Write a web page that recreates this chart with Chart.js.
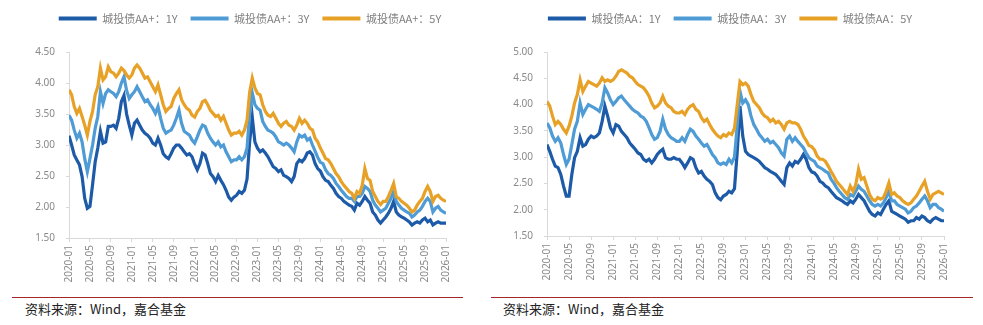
<!DOCTYPE html>
<html>
<head>
<meta charset="utf-8">
<script src="https://cdn.jsdelivr.net/npm/chart.js@4.4.1/dist/chart.umd.min.js"></script>
<style>
body { margin: 0; background: #fff; width: 983px; height: 325px; position: relative; overflow: hidden; }
canvas { position: absolute; top: 0; }
#leftChart { left: 0; }
#rightChart { left: 490px; }
.rule { position: absolute; top: 297px; height: 1px; background: #a3282a; }
.source { position: absolute; top: 300px; font-size: 13px; font-family: "Noto Sans CJK SC", sans-serif; color: #222; line-height: 18px; }
</style>
</head>
<body>
<canvas id="leftChart" width="490" height="295"></canvas>
<canvas id="rightChart" width="493" height="295"></canvas>
<div class="rule" style="left:12px;width:451px"></div>
<div class="rule" style="left:491px;width:482px"></div>
<div class="source" style="left:25px">资料来源：Wind，嘉合基金</div>
<div class="source" style="left:503px">资料来源：Wind，嘉合基金</div>
<script>
'use strict';

// half-month observation dates, 2020-01-01 .. 2026-01-01
let dates = [];
for (let y = 2020; y <= 2025; y++) {
    for (let m = 1; m <= 12; m++) {
        let mm = String(m).padStart(2, '0');
        dates.push(`${y}-${mm}-01`, `${y}-${mm}-16`);
    }
}
dates.push('2026-01-01');

let tickLabels = ['2020-01', '2020-05', '2020-09', '2021-01', '2021-05', '2021-09', '2022-01', '2022-05', '2022-09',
    '2023-01', '2023-05', '2023-09', '2024-01', '2024-05', '2024-09', '2025-01', '2025-05', '2025-09', '2026-01'];

let colors = ['#1d5aa8', '#4e9bd5', '#e8a127'];

// 城投债 AA+ yields (%)
let aaPlusNames = ['城投债AA+：1Y', '城投债AA+：3Y', '城投债AA+：5Y'];
let aaPlus1Y = [
    3.15, 3.00, 2.84, 2.76, 2.68, 2.49, 2.14, 1.98, 2.01, 2.36, 2.73, 2.95, 3.22, 3.03, 3.05, 3.30, 3.30, 3.32, 3.27, 3.43, 3.70, 3.80, 3.50, 3.32,
    3.16, 3.35, 3.40, 3.32, 3.24, 3.19, 3.16, 3.11, 3.03, 3.00, 3.11, 3.00, 2.86, 2.81, 2.78, 2.86, 2.95, 3.00, 3.00, 2.95, 2.89, 2.84, 2.86, 2.81,
    2.69, 2.60, 2.70, 2.87, 2.84, 2.70, 2.54, 2.49, 2.41, 2.51, 2.43, 2.36, 2.27, 2.16, 2.11, 2.16, 2.19, 2.25, 2.22, 2.27, 2.45, 3.05, 3.45, 3.05,
    2.95, 2.89, 2.92, 2.87, 2.81, 2.73, 2.65, 2.62, 2.57, 2.60, 2.51, 2.49, 2.46, 2.41, 2.49, 2.70, 2.76, 2.73, 2.78, 2.87, 2.89, 2.84, 2.70, 2.62,
    2.58, 2.49, 2.43, 2.41, 2.35, 2.30, 2.22, 2.17, 2.14, 2.09, 2.06, 2.03, 2.01, 1.95, 2.06, 2.03, 2.09, 2.17, 2.11, 2.06, 1.92, 1.87, 1.79, 1.74,
    1.79, 1.84, 1.90, 1.98, 2.09, 1.92, 1.87, 1.84, 1.82, 1.79, 1.76, 1.71, 1.74, 1.76, 1.74, 1.79, 1.82, 1.76, 1.79, 1.71, 1.74, 1.76, 1.74, 1.74,
    1.74
];
let aaPlus3Y = [
    3.48, 3.40, 3.24, 3.11, 3.19, 3.05, 2.78, 2.57, 2.78, 3.00, 3.27, 3.46, 3.86, 3.67, 3.83, 3.89, 3.86, 3.83, 3.78, 3.86, 4.00, 4.10, 3.88, 3.75,
    3.81, 3.86, 3.94, 3.86, 3.78, 3.70, 3.73, 3.65, 3.59, 3.51, 3.62, 3.43, 3.27, 3.19, 3.22, 3.24, 3.32, 3.43, 3.56, 3.35, 3.22, 3.19, 3.16, 3.08,
    3.03, 3.13, 3.24, 3.32, 3.30, 3.19, 3.11, 3.05, 3.00, 3.05, 2.97, 3.00, 2.89, 2.81, 2.73, 2.76, 2.76, 2.81, 2.76, 2.81, 2.95, 3.50, 3.84, 3.65,
    3.59, 3.56, 3.38, 3.30, 3.24, 3.22, 3.19, 3.13, 3.05, 3.03, 3.00, 3.03, 3.00, 2.95, 2.89, 3.05, 3.16, 3.13, 3.16, 3.08, 3.11, 3.00, 2.90, 2.80,
    2.72, 2.70, 2.60, 2.54, 2.51, 2.46, 2.38, 2.33, 2.27, 2.22, 2.17, 2.14, 2.14, 2.09, 2.17, 2.17, 2.22, 2.33, 2.30, 2.25, 2.11, 2.03, 1.98, 1.92,
    1.95, 1.98, 2.06, 2.14, 2.25, 2.09, 2.03, 1.98, 1.95, 1.92, 1.90, 1.84, 1.87, 1.92, 1.95, 2.01, 2.09, 2.14, 2.09, 1.92, 1.98, 2.01, 1.95, 1.92,
    1.90
];
let aaPlus5Y = [
    3.89, 3.81, 3.62, 3.51, 3.59, 3.46, 3.32, 3.16, 3.38, 3.54, 3.81, 3.94, 4.24, 4.05, 4.10, 4.26, 4.18, 4.16, 4.10, 4.16, 4.24, 4.20, 4.13, 4.08,
    4.13, 4.24, 4.29, 4.24, 4.16, 4.08, 4.10, 4.02, 3.94, 3.86, 3.97, 3.81, 3.65, 3.54, 3.59, 3.62, 3.75, 3.83, 3.89, 3.73, 3.65, 3.59, 3.56, 3.48,
    3.45, 3.54, 3.59, 3.70, 3.72, 3.65, 3.56, 3.51, 3.46, 3.48, 3.40, 3.46, 3.35, 3.24, 3.16, 3.19, 3.19, 3.22, 3.16, 3.24, 3.40, 3.85, 4.08, 3.92,
    3.83, 3.81, 3.65, 3.54, 3.48, 3.46, 3.51, 3.43, 3.35, 3.30, 3.35, 3.38, 3.32, 3.30, 3.24, 3.32, 3.43, 3.35, 3.40, 3.35, 3.27, 3.24, 3.11, 3.05,
    2.95, 2.87, 2.78, 2.76, 2.70, 2.62, 2.54, 2.49, 2.41, 2.35, 2.30, 2.25, 2.22, 2.14, 2.25, 2.22, 2.35, 2.62, 2.46, 2.43, 2.25, 2.17, 2.09, 2.04,
    2.09, 2.09, 2.17, 2.27, 2.38, 2.17, 2.14, 2.09, 2.06, 2.03, 1.98, 1.92, 1.95, 2.03, 2.09, 2.14, 2.25, 2.33, 2.25, 2.09, 2.17, 2.19, 2.14, 2.11,
    2.09
];

// 城投债 AA yields (%)
let aaNames = ['城投债AA：1Y', '城投债AA：3Y', '城投债AA：5Y'];
let aa1Y = [
    3.24, 3.11, 2.96, 2.83, 2.80, 2.67, 2.45, 2.26, 2.26, 2.67, 2.99, 3.11, 3.37, 3.21, 3.24, 3.34, 3.40, 3.37, 3.40, 3.46, 3.68, 3.97, 3.78, 3.56,
    3.46, 3.62, 3.59, 3.49, 3.43, 3.37, 3.27, 3.21, 3.15, 3.08, 3.05, 2.96, 2.92, 2.96, 2.89, 2.96, 3.05, 3.11, 3.15, 2.99, 2.96, 2.96, 2.99, 2.96,
    2.96, 2.89, 2.80, 2.89, 2.99, 2.96, 2.80, 2.70, 2.73, 2.64, 2.58, 2.54, 2.48, 2.32, 2.23, 2.19, 2.26, 2.29, 2.35, 2.32, 2.40, 3.10, 3.97, 3.40,
    3.11, 3.05, 3.02, 2.99, 2.96, 2.92, 2.86, 2.80, 2.77, 2.73, 2.70, 2.67, 2.61, 2.54, 2.48, 2.80, 2.89, 2.83, 2.92, 2.89, 2.96, 3.05, 2.96, 2.80,
    2.72, 2.70, 2.64, 2.54, 2.51, 2.45, 2.42, 2.35, 2.29, 2.23, 2.20, 2.17, 2.13, 2.10, 2.17, 2.13, 2.20, 2.29, 2.23, 2.17, 2.07, 1.97, 1.91, 1.88,
    1.94, 1.91, 2.01, 2.10, 2.17, 1.97, 1.94, 1.91, 1.88, 1.85, 1.82, 1.76, 1.79, 1.79, 1.85, 1.82, 1.88, 1.85, 1.79, 1.76, 1.82, 1.85, 1.82, 1.79,
    1.79
];
let aa3Y = [
    3.65, 3.56, 3.40, 3.30, 3.37, 3.27, 3.05, 2.86, 2.96, 3.24, 3.53, 3.68, 4.03, 3.81, 3.91, 4.00, 3.97, 3.94, 3.91, 3.87, 4.03, 4.32, 4.22, 4.09,
    4.00, 4.06, 4.13, 4.16, 4.09, 4.03, 3.97, 3.91, 3.87, 3.84, 3.78, 3.75, 3.68, 3.56, 3.43, 3.34, 3.37, 3.49, 3.72, 3.53, 3.43, 3.37, 3.34, 3.30,
    3.30, 3.37, 3.30, 3.43, 3.53, 3.49, 3.40, 3.34, 3.27, 3.21, 3.24, 3.15, 3.05, 2.99, 2.89, 2.86, 2.89, 2.86, 2.96, 2.89, 3.00, 3.60, 4.25, 4.03,
    4.09, 4.00, 3.78, 3.62, 3.53, 3.43, 3.37, 3.30, 3.34, 3.27, 3.30, 3.24, 3.18, 3.08, 3.02, 3.34, 3.40, 3.30, 3.37, 3.30, 3.24, 3.18, 3.08, 2.99,
    2.95, 2.92, 2.83, 2.80, 2.77, 2.73, 2.70, 2.58, 2.51, 2.42, 2.35, 2.29, 2.23, 2.20, 2.29, 2.26, 2.35, 2.45, 2.39, 2.35, 2.26, 2.17, 2.10, 2.07,
    2.10, 2.07, 2.13, 2.23, 2.35, 2.17, 2.17, 2.10, 2.07, 2.04, 2.01, 1.94, 1.97, 2.04, 2.07, 2.13, 2.20, 2.26, 2.17, 2.04, 2.10, 2.10, 2.04, 2.01,
    1.97
];
let aa5Y = [
    4.06, 3.97, 3.78, 3.62, 3.68, 3.62, 3.53, 3.46, 3.59, 3.78, 4.03, 4.19, 4.47, 4.25, 4.35, 4.44, 4.41, 4.38, 4.35, 4.41, 4.51, 4.44, 4.47, 4.44,
    4.47, 4.54, 4.63, 4.66, 4.63, 4.60, 4.54, 4.51, 4.44, 4.38, 4.35, 4.32, 4.25, 4.16, 4.03, 3.94, 3.97, 4.03, 4.16, 4.03, 3.97, 3.94, 3.87, 3.84,
    3.84, 3.87, 3.81, 3.91, 3.97, 4.00, 3.91, 3.87, 3.75, 3.68, 3.72, 3.62, 3.53, 3.46, 3.40, 3.37, 3.43, 3.40, 3.46, 3.43, 3.55, 4.00, 4.44, 4.38,
    4.41, 4.35, 4.19, 4.06, 4.00, 3.94, 3.84, 3.78, 3.75, 3.68, 3.72, 3.65, 3.68, 3.62, 3.53, 3.65, 3.68, 3.65, 3.65, 3.62, 3.53, 3.40, 3.32, 3.22,
    3.20, 3.14, 3.02, 2.96, 2.96, 2.92, 2.83, 2.73, 2.64, 2.54, 2.48, 2.42, 2.35, 2.29, 2.45, 2.35, 2.48, 2.77, 2.58, 2.61, 2.45, 2.29, 2.20, 2.17,
    2.23, 2.20, 2.23, 2.35, 2.51, 2.29, 2.32, 2.26, 2.23, 2.17, 2.13, 2.10, 2.13, 2.20, 2.26, 2.35, 2.45, 2.54, 2.35, 2.20, 2.29, 2.32, 2.35, 2.32,
    2.29
];

// months since 2020-01 for a date string
function monthOffset(d) {
    let [y, m, day] = d.split('-').map(Number);
    return (y - 2020) * 12 + (m - 1) + (day - 1) / 30;
}

// extra room under the legend row, and the legend centred on a given x
const legendGap = {
    id: 'legendGap',
    beforeInit(chart) {
        const fit = chart.legend.fit;
        chart.legend.fit = function () {
            fit.call(this);
            this.height += 18;
        };
    },
    afterLayout(chart, args, opts) {
        let lg = chart.legend;
        let half = chart.width / 2;
        lg.left = opts.center - half;
        lg.right = opts.center + half;
        lg.width = half * 2;
    }
};

const tickFont = { family: '"Noto Sans", "Noto Sans CJK SC", sans-serif', size: 10 };
const axisGray = '#d9d9d9';

function drawChart(id, names, series, yMax, plot) {
    let canvas = document.getElementById(id);
    let datasets = series.map((values, i) => ({
        label: names[i],
        data: values.map((v, j) => ({ x: monthOffset(dates[j]), y: v })),
        borderColor: colors[i],
        backgroundColor: colors[i],
        borderWidth: 3.2,
        pointRadius: 0,
        tension: 0,
        order: series.length - 1 - i
    }));

    return new Chart(canvas, {
        type: 'line',
        data: { datasets: datasets },
        options: {
            responsive: false,
            animation: false,
            devicePixelRatio: 1,
            layout: { padding: { left: 0, top: 0, bottom: 0, right: canvas.width - plot.right } },
            plugins: {
                tooltip: { enabled: false },
                legendGap: { center: plot.legendCenter },
                legend: {
                    position: 'top',
                    labels: {
                        boxWidth: 38,
                        boxHeight: 4,
                        padding: 13,
                        color: '#808080',
                        font: { family: '"Noto Sans CJK SC", sans-serif', size: 11 },
                        sort: (a, b) => a.datasetIndex - b.datasetIndex,
                        generateLabels: (chart) => Chart.defaults.plugins.legend.labels.generateLabels(chart)
                            .map(item => Object.assign(item, { lineWidth: 0 }))
                    }
                }
            },
            scales: {
                x: {
                    type: 'linear',
                    min: 0,
                    max: 72,
                    afterFit: (s) => { s.height = canvas.height - plot.bottom; },
                    grid: { drawOnChartArea: false, tickLength: 4, color: axisGray },
                    border: { color: axisGray },
                    ticks: {
                        stepSize: 4,
                        autoSkip: false,
                        minRotation: 90,
                        maxRotation: 90,
                        padding: 3,
                        color: '#8a8a8a',
                        font: tickFont,
                        callback: (v) => tickLabels[Math.round(v / 4)]
                    }
                },
                y: {
                    min: 1.5,
                    max: yMax,
                    afterFit: (s) => { s.width = plot.left; },
                    grid: { drawOnChartArea: false, tickLength: 3, color: axisGray },
                    border: { color: axisGray },
                    ticks: {
                        stepSize: 0.5,
                        padding: 11,
                        color: '#8a8a8a',
                        font: tickFont,
                        callback: (v) => v.toFixed(2)
                    }
                }
            }
        },
        plugins: [legendGap]
    });
}

drawChart('leftChart', aaPlusNames, [aaPlus1Y, aaPlus3Y, aaPlus5Y], 4.5, { left: 69, right: 446, bottom: 238, legendCenter: 250 });
drawChart('rightChart', aaNames, [aa1Y, aa3Y, aa5Y], 5.0, { left: 57, right: 454, bottom: 236, legendCenter: 240 });
</script>
</body>
</html>
